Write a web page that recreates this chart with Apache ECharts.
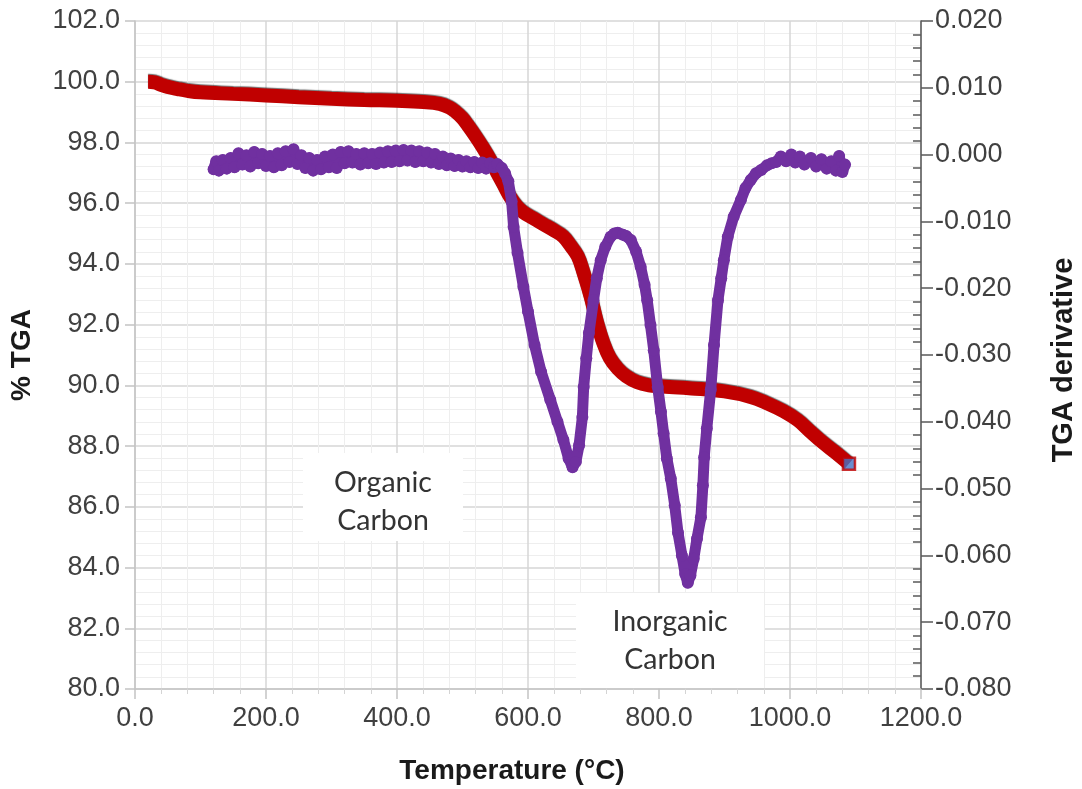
<!DOCTYPE html>
<html>
<head>
<meta charset="utf-8">
<script src="https://cdn.jsdelivr.net/npm/echarts@6/dist/echarts.min.js"></script>
<style>html,body{margin:0;padding:0;background:#fff}#c{width:1082px;height:789px}</style>
</head>
<body>
<div id="c"></div>
<script>
// Temperature (°C) and % TGA
var tgaTemp = [20,30,40,50,65,80,100,150,200,250,300,350,400,440,465,480,490,500,507,520,532,543,553,563,573,583,593,608,624,640,654,665,676,685,696,705,715,725,737,750,767,785,800,850,900,940,966,990,1012,1030,1050,1070,1090];
var tgaVal  = [100.0,99.98,99.9,99.83,99.76,99.7,99.65,99.6,99.55,99.49,99.44,99.4,99.37,99.33,99.27,99.15,99.0,98.8,98.6,98.2,97.8,97.4,97.0,96.6,96.2,95.9,95.7,95.5,95.3,95.1,94.9,94.6,94.25,93.7,92.9,92.1,91.4,90.9,90.55,90.3,90.1,90.0,89.97,89.9,89.8,89.62,89.4,89.15,88.85,88.5,88.12,87.78,87.42];
// Temperature (°C) and TGA derivative
var derTemp = [120,124,128,134,140,146,152,158,164,170,176,182,188,194,200,206,212,218,224,230,236,242,248,254,260,266,272,278,284,290,296,302,308,314,320,326,332,338,344,350,356,362,368,374,380,386,392,398,404,410,416,422,428,434,440,446,452,458,464,470,476,482,488,494,500,506,512,518,524,530,536,542,548,553,560,565,570,575,578,584,593,600,610,620,634,645,654,662,668,673,678,683,685,689,693,700,705,711,718,726,732,737,745,750,757,765,772,778,782,787,792,798,803,807,812,818,824,829,835,840,844,848,853,858,864,867,869,873,879,884,890,895,899,905,914,925,932,940,948,956,965,972,979,986,994,1002,1008,1015,1022,1032,1040,1048,1056,1063,1070,1075,1080,1084];
var derVal  = [-0.0022,-0.0010,-0.0024,-0.0008,-0.0021,-0.0005,-0.0019,0.0002,-0.0015,-0.0001,-0.0018,0.0004,-0.0013,0.0001,-0.0017,-0.0002,-0.0019,0.0002,-0.0016,0.0005,-0.0011,0.0008,-0.0014,-0.0001,-0.0020,-0.0005,-0.0024,-0.0008,-0.0022,-0.0003,-0.0019,0.0000,-0.0020,0.0004,-0.0013,0.0005,-0.0012,0.0001,-0.0015,0.0002,-0.0013,0.0001,-0.0014,0.0003,-0.0012,0.0005,-0.0011,0.0006,-0.0010,0.0007,-0.0009,0.0006,-0.0011,0.0005,-0.0010,0.0003,-0.0012,0.0001,-0.0014,-0.0003,-0.0016,-0.0006,-0.0017,-0.0008,-0.0018,-0.0010,-0.0019,-0.0011,-0.0020,-0.0012,-0.0021,-0.0013,-0.0019,-0.0014,-0.0020,-0.0028,-0.0040,-0.0070,-0.0108,-0.0147,-0.0198,-0.0235,-0.0285,-0.0325,-0.0367,-0.0400,-0.0427,-0.0455,-0.0468,-0.0460,-0.0435,-0.0393,-0.0348,-0.0305,-0.0267,-0.0218,-0.0185,-0.0158,-0.0138,-0.0123,-0.0118,-0.0117,-0.0120,-0.0122,-0.0128,-0.0145,-0.0168,-0.0195,-0.0218,-0.0255,-0.0293,-0.0348,-0.0385,-0.0417,-0.0455,-0.0485,-0.0525,-0.0566,-0.0600,-0.0628,-0.0641,-0.0630,-0.0605,-0.0575,-0.0543,-0.0495,-0.0453,-0.0410,-0.0352,-0.0285,-0.0218,-0.0185,-0.0158,-0.0123,-0.0093,-0.0068,-0.0050,-0.0038,-0.0028,-0.0023,-0.0016,-0.0013,-0.0011,-0.0003,-0.0010,0.0000,-0.0012,-0.0003,-0.0015,-0.0005,-0.0018,-0.0007,-0.0021,-0.0010,-0.0024,-0.0002,-0.0026,-0.0015];
var xTicks = {min: 0, max: 1200, step: 200};
var yLeftTicks = {min: 80, max: 102, step: 2};
var yRightTicks = {min: -0.08, max: 0.02, step: 0.01};
var annotations = ["Organic\nCarbon", "Inorganic\nCarbon"];
var titles = {x: "Temperature (°C)", yLeft: "% TGA", yRight: "TGA derivative"};

var tgaData = tgaTemp.map(function(t,i){return [t,tgaVal[i]];});
var derData = derTemp.map(function(t,i){return [t,derVal[i]];});
var lastTga = tgaData[tgaData.length-1];

var chart = echarts.init(document.getElementById('c'), null, {renderer:'canvas'});
var labelStyle = {fontFamily:'Liberation Sans, Arial, sans-serif', fontSize:27, color:'#404040'};
var titleStyle = {fontFamily:'Liberation Sans, Arial, sans-serif', fontSize:28, fontWeight:'bold', fill:'#1a1a1a'};
var annoStyle = {fontFamily:'Lato, Open Sans, sans-serif', fontSize:28.5, fill:'#333', lineHeight:38, align:'center', verticalAlign:'middle'};

chart.setOption({
  backgroundColor:'#fff',
  animation:false,
  grid:{left:135, right:161, top:21, bottom:100},
  xAxis:{
    type:'value', min:xTicks.min, max:xTicks.max, interval:xTicks.step,
    axisLine:{show:true, onZero:false, lineStyle:{color:'#C4C4C4', width:1.5}},
    axisTick:{show:true, length:10, lineStyle:{color:'#C4C4C4', width:1.5}},
    minorTick:{show:true, splitNumber:5, length:5, lineStyle:{color:'#D4D4D4'}},
    axisLabel:Object.assign({margin:16, formatter:function(v){return v.toFixed(1);}}, labelStyle),
    splitLine:{show:true, lineStyle:{color:'#D6D6D6', width:1.5}},
    minorSplitLine:{show:true, lineStyle:{color:'#EEEEEE', width:1}}
  },
  yAxis:[{
    type:'value', min:yLeftTicks.min, max:yLeftTicks.max, interval:yLeftTicks.step,
    axisLine:{show:true, onZero:false, lineStyle:{color:'#C4C4C4', width:1.5}},
    axisTick:{show:true, length:10, lineStyle:{color:'#C4C4C4', width:1.5}},
    minorTick:{show:false, splitNumber:5},
    axisLabel:Object.assign({margin:15, formatter:function(v){return v.toFixed(1);}}, labelStyle),
    splitLine:{show:true, lineStyle:{color:'#D6D6D6', width:1.5}},
    minorSplitLine:{show:true, lineStyle:{color:'#EEEEEE', width:1}}
  },{
    type:'value', position:'right', min:yRightTicks.min, max:yRightTicks.max, interval:yRightTicks.step,
    axisLine:{show:true, onZero:false, lineStyle:{color:'#595959', width:1.5}},
    axisTick:{show:true, length:12, lineStyle:{color:'#595959', width:1.5}},
    minorTick:{show:true, splitNumber:5, length:-8, lineStyle:{color:'#595959', width:1.5}},
    axisLabel:Object.assign({margin:14, formatter:function(v){if(Math.abs(v)<1e-9)v=0;return v.toFixed(3);}}, labelStyle),
    splitLine:{show:false}
  }],
  graphic:[
    {type:'rect', z:1, shape:{x:303,y:453,width:160,height:88}, style:{fill:'#fff'}},
    {type:'rect', z:1, shape:{x:576,y:593,width:188,height:95}, style:{fill:'#fff'}},
    {type:'text', z:3, x:383, y:502, style:Object.assign({text:annotations[0]}, annoStyle)},
    {type:'text', z:3, x:670, y:641, style:Object.assign({text:annotations[1]}, annoStyle)},
    {type:'text', z:3, x:512, y:771, style:Object.assign({text:titles.x, align:'center', verticalAlign:'middle'}, titleStyle)},
    {type:'text', z:3, x:22, y:355, rotation:Math.PI/2, style:Object.assign({text:titles.yLeft, align:'center', verticalAlign:'middle'}, titleStyle)},
    {type:'text', z:3, x:1064, y:360, rotation:Math.PI/2, style:Object.assign({text:titles.yRight, align:'center', verticalAlign:'middle', fontSize:29}, titleStyle, {fontSize:29})}
  ],
  series:[{
    type:'line', yAxisIndex:0, data:tgaData, smooth:0.4, showSymbol:false, symbol:'none',
    lineStyle:{color:'#C00000', width:14, cap:'butt', shadowColor:'rgba(0,0,0,0.55)', shadowBlur:1, shadowOffsetY:-1},
    z:3
  },{
    type:'scatter', yAxisIndex:0, data:[lastTga], symbol:'rect', symbolSize:12,
    itemStyle:{color:'#4472C4', borderColor:'#C00000', borderWidth:2.5}, z:4
  },{
    type:'line', yAxisIndex:1, data:derData, smooth:false, showSymbol:true, symbol:'circle', symbolSize:12,
    lineStyle:{color:'#7030A0', width:11, join:'round', cap:'round'},
    itemStyle:{color:'#7030A0'}, z:5
  }]
});
</script>
</body>
</html>
